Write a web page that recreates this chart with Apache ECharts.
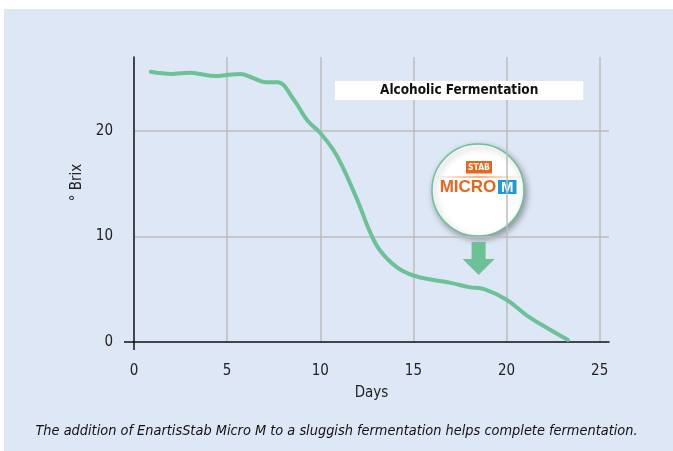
<!DOCTYPE html>
<html>
<head>
<meta charset="utf-8">
<script src="https://cdn.jsdelivr.net/npm/echarts@6/dist/echarts.min.js"></script>
<style>
  html, body { margin: 0; padding: 0; background: #fff; }
  #chart { width: 673px; height: 451px; }
</style>
</head>
<body>
<div id="chart"></div>
<script>
// dados
const dias = [0.9, 2, 3, 4.4, 5, 5.7, 6.4, 7.1, 7.7, 8.6, 9.3, 10, 10.7, 11.2, 12, 12.7, 13.2, 14.1, 15, 16, 17, 18, 18.8, 20, 21.1, 22.2, 23.3];
const brix = [25.6, 25.4, 25.5, 25.2, 25.3, 25.4, 25.0, 24.6, 24.6, 22.9, 21.0, 19.8, 18.2, 16.6, 13.4, 10.3, 8.7, 7.1, 6.3, 5.9, 5.6, 5.2, 5.0, 4.0, 2.5, 1.3, 0.2];
const xTicks = [0, 5, 10, 15, 20, 25];
const yTicks = [0, 10, 20];
const setaPos = [18.5, 7.9]; // seta de adição do produto

const titulo = 'Alcoholic Fermentation';
const legenda = 'The addition of EnartisStab Micro M to a sluggish fermentation helps complete fermentation.';

const narrow = "'DejaVu Sans Condensed', 'Liberation Sans Narrow', sans-serif";
const verde = '#6cc197';
const laranja = '#e8661c';
const grade = { color: '#bdbdbd', width: 1.5 };
const eixo = { color: '#111', width: 1.5 };

const chart = echarts.init(document.getElementById('chart'));

// eixos "fantasma" só para os prolongamentos das linhas de eixo no zero
function eixoExtra(base){
  return Object.assign({
    type: 'value', interval: 5,
    axisLine: { show: false },
    axisLabel: { show: false },
    splitLine: { show: false }
  }, base);
}

chart.setOption({
  animation: false,
  title: [{
    text: titulo,
    left: 335, top: 81,
    backgroundColor: '#fff',
    padding: [1, 45, 1, 45],
    textStyle: { fontFamily: narrow, fontWeight: 'bold', fontSize: 13.5, color: '#111', lineHeight: 17 }
  }, {
    text: legenda,
    left: 'center', top: 419,
    textStyle: { fontFamily: narrow, fontStyle: 'italic', fontWeight: 'normal', fontSize: 14.4, color: '#111' }
  }],
  grid: { left: 134, right: 64, top: 57, bottom: 109 },
  xAxis: [{
    type: 'value', min: 0, max: 25.5, interval: 5,
    name: 'Days', nameLocation: 'middle', nameGap: 44,
    nameTextStyle: { fontFamily: narrow, fontSize: 15, color: '#222' },
    axisLine: { onZero: false, lineStyle: eixo },
    axisTick: { show: false },
    axisLabel: { customValues: xTicks, margin: 22, fontFamily: narrow, fontSize: 15, color: '#222' },
    splitLine: { show: true, showMinLine: false, showMaxLine: false, lineStyle: grade }
  }, eixoExtra({
    min: 0, max: 25.5, position: 'bottom',
    axisTick: { show: true, customValues: [0], length: 8, lineStyle: eixo }
  })],
  yAxis: [{
    type: 'value', min: 0, max: 27, interval: 10,
    name: '° Brix', nameLocation: 'middle', nameGap: 44,
    nameTextStyle: { fontFamily: narrow, fontSize: 15, color: '#222', padding: [0, 0, 0, 34] },
    axisLine: { show: true, onZero: false, lineStyle: eixo },
    axisTick: { show: false },
    axisLabel: { customValues: yTicks, margin: 21, fontFamily: narrow, fontSize: 15, color: '#222' },
    splitLine: { show: true, showMinLine: false, showMaxLine: false, lineStyle: grade }
  }, eixoExtra({
    min: 0, max: 27, interval: 10, position: 'left',
    axisTick: { show: true, customValues: [0], length: 10, lineStyle: eixo }
  })],
  series: [{
    type: 'line',
    data: dias.map((d, i) => [d, brix[i]]),
    smooth: 0.4,
    symbol: 'none',
    lineStyle: { color: verde, width: 4, cap: 'round' },
    z: 3,
    markPoint: {
      symbol: 'path://M9,0 L23,0 L23,17 L32,17 L16,33 L0,17 L9,17 Z',
      symbolSize: [32, 33],
      itemStyle: { color: verde },
      label: { show: false },
      data: [{ coord: setaPos }]
    }
  }],
  graphic: [
    // fundo azul
    { type: 'rect', z: -10, silent: true, shape: { x: 4, y: 9, width: 669, height: 442 }, style: { fill: '#dee7f5' } },
    // logo
    { type: 'group', z: 10, children: [
      { type: 'circle', shape: { cx: 478, cy: 190, r: 46 },
        style: { fill: '#fff', stroke: verde, lineWidth: 1.5, shadowBlur: 6, shadowOffsetX: 2, shadowOffsetY: 3, shadowColor: 'rgba(0,0,0,0.35)' } },
      { type: 'rect', shape: { x: 466, y: 161, width: 26, height: 12.5 }, style: { fill: laranja } },
      { type: 'text', style: { x: 479, y: 167.5, text: 'STAB', fill: '#fff', font: "bold 8.5px 'DejaVu Sans Condensed', sans-serif", align: 'center', verticalAlign: 'middle' } },
      { type: 'line', shape: { x1: 436, y1: 177, x2: 521, y2: 177 },
        style: { lineWidth: 1, stroke: new echarts.graphic.LinearGradient(0, 0, 1, 0, [
          { offset: 0, color: 'rgba(232,102,28,0)' }, { offset: 0.5, color: 'rgba(232,102,28,1)' }, { offset: 1, color: 'rgba(232,102,28,0)' }]) } },
      { type: 'text', style: { x: 468, y: 187.5, text: 'MICRO', fill: laranja, font: "bold 17px 'Liberation Sans', sans-serif", align: 'center', verticalAlign: 'middle' } },
      { type: 'rect', shape: { x: 498, y: 180, width: 18.5, height: 14 }, style: { fill: '#1d9ad8' } },
      { type: 'text', style: { x: 507.3, y: 187.5, text: 'M', fill: '#fff', font: "bold 15px 'Liberation Sans', sans-serif", align: 'center', verticalAlign: 'middle' } }
    ]}
  ]
});
</script>
</body>
</html>
